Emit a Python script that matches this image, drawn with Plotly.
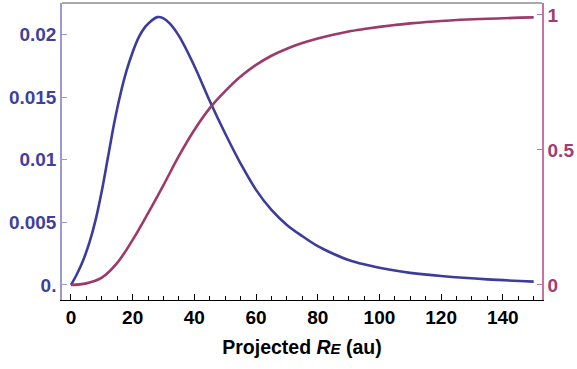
import plotly.graph_objects as go

# Data
blue_x = [0, 2, 4, 6, 8, 10, 12, 14, 16, 18, 20, 22, 24, 26, 28, 30, 32, 35, 40, 45, 50,
          55, 60, 65, 70, 75, 80, 85, 90, 95, 100, 105, 110, 120, 135, 150]
blue_y = [0, 0.0009, 0.0020, 0.0034, 0.0052, 0.0075, 0.0102, 0.0129, 0.0152, 0.0171,
          0.0186, 0.0198, 0.0206, 0.0211, 0.0214, 0.0213, 0.0209, 0.0199, 0.0175, 0.0147,
          0.0121, 0.0097, 0.0076, 0.0060, 0.0048, 0.0039, 0.0031, 0.0025, 0.0020, 0.00165,
          0.00138, 0.00115, 0.00097, 0.00072, 0.00045, 0.00027]

red_x = [0, 5, 10, 15, 20, 25, 30, 35, 40, 45, 50, 55, 60, 65, 70, 75, 80, 85, 90, 95,
         100, 105, 110, 120, 135, 150]
red_y = [0, 0.006, 0.027, 0.082, 0.167, 0.266, 0.370, 0.478, 0.574, 0.655, 0.718, 0.772,
         0.815, 0.849, 0.875, 0.896, 0.913, 0.927, 0.939, 0.948, 0.956, 0.963, 0.969,
         0.978, 0.986, 0.991]

left_tickvals = [0, 0.005, 0.01, 0.015, 0.02]
left_ticktext = ["0.", "0.005", "0.01", "0.015", "0.02"]
right_tickvals = [0, 0.5, 1]
right_ticktext = ["0", "0.5", "1"]

BLUE = "#3c3c9c"
RED = "#9c3a6c"
FONT = "Liberation Sans"

fig = go.Figure()
fig.add_trace(go.Scatter(x=blue_x, y=blue_y, mode="lines", line=dict(color=BLUE, width=2.6, shape="spline", smoothing=1.0), yaxis="y"))
fig.add_trace(go.Scatter(x=red_x, y=red_y, mode="lines", line=dict(color=RED, width=2.6, shape="spline", smoothing=1.0), yaxis="y2"))

fig.update_layout(
    width=577, height=369,
    margin=dict(l=62, r=35, t=3, b=69),
    plot_bgcolor="white", paper_bgcolor="white",
    showlegend=False,
    font=dict(family=FONT, size=19),
    xaxis=dict(
        range=[-2.9, 152.7], tickmode="linear", tick0=0, dtick=20,
        ticks="inside", ticklen=6, tickcolor="black", tickwidth=1,
        showline=True, linecolor="black", linewidth=1, showgrid=False, zeroline=False,
        tickfont=dict(family=FONT, size=19, color="black", weight="bold"),
        minor=dict(tickmode="linear", tick0=0, dtick=5, ticks="inside", ticklen=4, tickcolor="black", showgrid=False),
        title=dict(text="<b>Projected <i>R</i><i><span style='font-size:15px'>E</span></i> (au)</b>",
                   font=dict(family=FONT, size=19.5, color="black"), standoff=13),
    ),
    yaxis=dict(
        range=[-0.0012, 0.02253], tickmode="array", tickvals=left_tickvals, ticktext=left_ticktext,
        ticks="inside", ticklen=5, tickcolor="#9a9ad0",
        showline=True, linecolor="#9a9ad0", linewidth=1.5, showgrid=False, zeroline=False,
        tickfont=dict(family=FONT, size=19, color="#3f3fa0", weight="bold"),
    ),
    yaxis2=dict(
        range=[-0.0556, 1.0444], tickmode="array", tickvals=right_tickvals, ticktext=right_ticktext,
        overlaying="y", side="right",
        ticks="inside", ticklen=5, tickcolor="#c872a2",
        showline=True, linecolor="#c872a2", linewidth=1.5, showgrid=False, zeroline=False,
        tickfont=dict(family=FONT, size=19, color="#a03c74", weight="bold"),
    ),
    shapes=[dict(type="line", xref="paper", yref="paper", x0=0, x1=1, y0=1, y1=1,
                 line=dict(color="#555555", width=1))],
)

fig.write_html("out.html")
